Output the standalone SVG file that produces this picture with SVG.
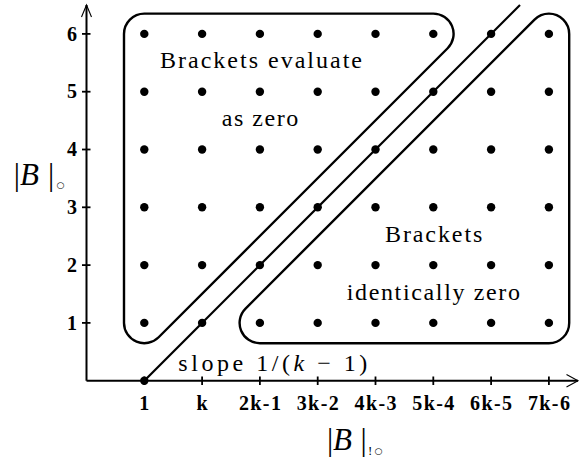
<svg xmlns="http://www.w3.org/2000/svg" width="584" height="460" viewBox="0 0 584 460">
<style>
.ax{stroke:#000;stroke-width:2;fill:none}
.tk{stroke:#000;stroke-width:1.8}
.ah{stroke:#000;stroke-width:1.1;fill:none}
.rg{stroke:#000;stroke-width:2.4;fill:none}
.ln{stroke:#000;stroke-width:2.2;fill:none}
.dt{fill:#000}
.lab{font-family:"Liberation Serif",serif;font-weight:bold;font-size:20px;fill:#000}
.txt{font-family:"Liberation Serif",serif;font-size:24px;fill:#000}
.mth{font-family:"Liberation Serif","DejaVu Serif",serif;fill:#000}
.sub{font-family:"DejaVu Sans",sans-serif;fill:#000}
</style>
<rect width="584" height="460" fill="#fff"/>
<g id="axes">
<line class="ax" x1="86.5" y1="380.7" x2="86.5" y2="5"/>
<line class="ax" x1="86.5" y1="380.7" x2="578" y2="380.7"/>
<polyline class="ah" points="81.5,17 86.5,5 91.5,17"/>
<polyline class="ah" points="566.5,374.5 578,380.7 566.5,387"/>
<g id="yticks">
<line class="tk" x1="82" y1="322.9" x2="90.5" y2="322.9"/>
<line class="tk" x1="82" y1="265.1" x2="90.5" y2="265.1"/>
<line class="tk" x1="82" y1="207.3" x2="90.5" y2="207.3"/>
<line class="tk" x1="82" y1="149.5" x2="90.5" y2="149.5"/>
<line class="tk" x1="82" y1="91.7" x2="90.5" y2="91.7"/>
<line class="tk" x1="82" y1="33.9" x2="90.5" y2="33.9"/>
</g>
<g id="xticks">
<line class="tk" x1="144.3" y1="376.5" x2="144.3" y2="385"/>
<line class="tk" x1="202.1" y1="376.5" x2="202.1" y2="385"/>
<line class="tk" x1="259.9" y1="376.5" x2="259.9" y2="385"/>
<line class="tk" x1="317.7" y1="376.5" x2="317.7" y2="385"/>
<line class="tk" x1="375.5" y1="376.5" x2="375.5" y2="385"/>
<line class="tk" x1="433.3" y1="376.5" x2="433.3" y2="385"/>
<line class="tk" x1="491.1" y1="376.5" x2="491.1" y2="385"/>
<line class="tk" x1="548.9" y1="376.5" x2="548.9" y2="385"/>
</g>
<g id="ylabels" class="lab" text-anchor="middle">
<text x="72" y="329.6">1</text>
<text x="72" y="271.8">2</text>
<text x="72" y="214">3</text>
<text x="72" y="156.2">4</text>
<text x="72" y="98.4">5</text>
<text x="72" y="40.6">6</text>
</g>
<g id="xlabels" class="lab" text-anchor="middle">
<text x="144.3" y="410">1</text>
<text x="202.1" y="410">k</text>
<text x="259.9" y="410" textLength="42">2k-1</text>
<text x="317.7" y="410" textLength="42">3k-2</text>
<text x="375.5" y="410" textLength="42">4k-3</text>
<text x="433.3" y="410" textLength="42">5k-4</text>
<text x="491.1" y="410" textLength="42">6k-5</text>
<text x="548.9" y="410" textLength="42">7k-6</text>
</g>
<text id="ylabel" class="mth" y="185"><tspan x="13.7" font-size="31">|</tspan><tspan x="20" font-style="italic" font-size="31">B</tspan><tspan x="48" font-size="31">|</tspan><tspan class="sub" x="56.5" y="188" font-size="9">○</tspan></text>
<text id="xlabel" class="mth" y="450"><tspan x="327" font-size="31">|</tspan><tspan x="333" font-style="italic" font-size="31">B</tspan><tspan x="360.5" font-size="31">|</tspan><tspan x="368" y="455" font-size="13">!</tspan><tspan class="sub" x="374.5" y="454" font-size="9">○</tspan></text>
</g>
<g id="region-zero">
<path class="rg" d="M144.3,13.6 H433.3 A20.3,20.3 0 0 1 447.65,48.25 L158.65,337.25 A20.3,20.3 0 0 1 124,322.9 V33.9 A20.3,20.3 0 0 1 144.3,13.6 Z"/>
<text class="txt" x="160" y="68.3" textLength="202">Brackets evaluate</text>
<text class="txt" x="221.7" y="126" textLength="76.6">as zero</text>
</g>
<g id="region-identically-zero">
<path class="rg" d="M548.9,13.6 A20.3,20.3 0 0 1 569.2,33.9 V322.9 A20.3,20.3 0 0 1 548.9,343.2 H259.9 A20.3,20.3 0 0 1 245.55,308.55 L534.55,19.55 A20.3,20.3 0 0 1 548.9,13.6 Z"/>
<text class="txt" x="385" y="241.7" textLength="97.3">Brackets</text>
<text class="txt" x="346.7" y="300" textLength="173.3">identically zero</text>
</g>
<g id="connectors">
<line class="ln" x1="144.3" y1="380.7" x2="520" y2="5"/>
<text class="txt" x="178.3" y="370.7" textLength="189">slope 1/(<tspan font-style="italic">k</tspan> − 1)</text>
</g>
<g id="dots" class="dt">
<circle cx="144.3" cy="380.7" r="4.2"/>
<g id="row1"><circle cx="144.3" cy="322.9" r="4.2"/><circle cx="202.1" cy="322.9" r="4.2"/><circle cx="259.9" cy="322.9" r="4.2"/><circle cx="317.7" cy="322.9" r="4.2"/><circle cx="375.5" cy="322.9" r="4.2"/><circle cx="433.3" cy="322.9" r="4.2"/><circle cx="491.1" cy="322.9" r="4.2"/><circle cx="548.9" cy="322.9" r="4.2"/></g>
<g id="row2"><circle cx="144.3" cy="265.1" r="4.2"/><circle cx="202.1" cy="265.1" r="4.2"/><circle cx="259.9" cy="265.1" r="4.2"/><circle cx="317.7" cy="265.1" r="4.2"/><circle cx="375.5" cy="265.1" r="4.2"/><circle cx="433.3" cy="265.1" r="4.2"/><circle cx="491.1" cy="265.1" r="4.2"/><circle cx="548.9" cy="265.1" r="4.2"/></g>
<g id="row3"><circle cx="144.3" cy="207.3" r="4.2"/><circle cx="202.1" cy="207.3" r="4.2"/><circle cx="259.9" cy="207.3" r="4.2"/><circle cx="317.7" cy="207.3" r="4.2"/><circle cx="375.5" cy="207.3" r="4.2"/><circle cx="433.3" cy="207.3" r="4.2"/><circle cx="491.1" cy="207.3" r="4.2"/><circle cx="548.9" cy="207.3" r="4.2"/></g>
<g id="row4"><circle cx="144.3" cy="149.5" r="4.2"/><circle cx="202.1" cy="149.5" r="4.2"/><circle cx="259.9" cy="149.5" r="4.2"/><circle cx="317.7" cy="149.5" r="4.2"/><circle cx="375.5" cy="149.5" r="4.2"/><circle cx="433.3" cy="149.5" r="4.2"/><circle cx="491.1" cy="149.5" r="4.2"/><circle cx="548.9" cy="149.5" r="4.2"/></g>
<g id="row5"><circle cx="144.3" cy="91.7" r="4.2"/><circle cx="202.1" cy="91.7" r="4.2"/><circle cx="259.9" cy="91.7" r="4.2"/><circle cx="317.7" cy="91.7" r="4.2"/><circle cx="375.5" cy="91.7" r="4.2"/><circle cx="433.3" cy="91.7" r="4.2"/><circle cx="491.1" cy="91.7" r="4.2"/><circle cx="548.9" cy="91.7" r="4.2"/></g>
<g id="row6"><circle cx="144.3" cy="33.9" r="4.2"/><circle cx="202.1" cy="33.9" r="4.2"/><circle cx="259.9" cy="33.9" r="4.2"/><circle cx="317.7" cy="33.9" r="4.2"/><circle cx="375.5" cy="33.9" r="4.2"/><circle cx="433.3" cy="33.9" r="4.2"/><circle cx="491.1" cy="33.9" r="4.2"/><circle cx="548.9" cy="33.9" r="4.2"/></g>
</g>
</svg>
